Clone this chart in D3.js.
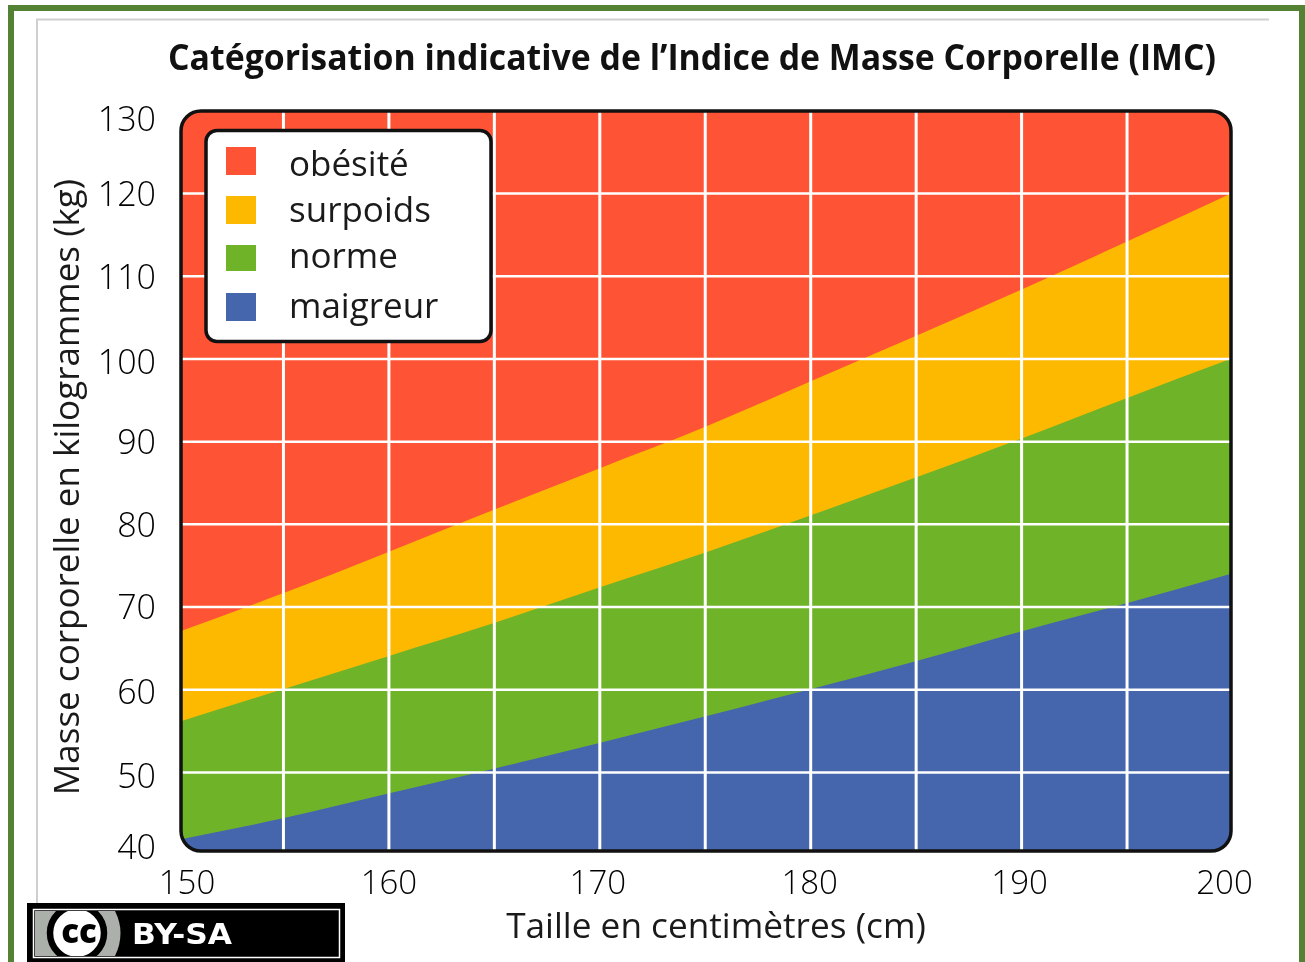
<!DOCTYPE html>
<html lang="fr">
<head>
<meta charset="utf-8">
<title>IMC</title>
<script src="https://cdn.jsdelivr.net/npm/d3@7"></script>
<style>
    html, body { margin: 0; padding: 0; background: #fff; overflow: hidden; }
    svg { display: block; filter: blur(0.55px); }
    text { font-family: "Open Sans", sans-serif; fill: #1a1a1a; }
    .grid line { stroke: #fff; stroke-width: 3; }
    .grid-y line { stroke-width: 2.5; }
    .axis text { font-size: 34px; font-weight: 300; fill: #000; }
    .axis path, .axis line { display: none; }
</style>
</head>
<body>
<svg id="chart" width="1305" height="962"></svg>
<script>
// Values
var tailles = [150, 155, 160, 165, 170, 175, 180, 185, 190, 195, 200];
var limiteMaigreur = [41.8, 44.4, 47.4, 50.4, 53.5, 56.7, 60, 63.4, 67, 70.4, 74];
var limiteNorme = [56, 60, 64, 68, 72.3, 76.5, 81, 85.6, 90.3, 95.2, 100];
var limiteSurpoids = [66.9, 71.6, 76.6, 81.7, 86.7, 91.7, 97.2, 102.7, 108.3, 114.1, 120];
var limiteObesite = [130, 130, 130, 130, 130, 130, 130, 130, 130, 130, 130];

var categories = ["obésité", "surpoids", "norme", "maigreur"];
var couleurs = ["#ff5336", "#fdb900", "#6fb329", "#4565ad"];
var xTicks = [150, 160, 170, 180, 190, 200];
var yTicks = [40, 50, 60, 70, 80, 90, 100, 110, 120, 130];
var xGrid = [155, 160, 165, 170, 175, 180, 185, 190, 195];
var yGrid = [50, 60, 70, 80, 90, 100, 110, 120];

var svg = d3.select("#chart");
var x = d3.scaleLinear().domain([150, 200]).range([177.5, 1232]);
var y = d3.scaleLinear().domain([40, 130]).range([854.7, 110.3]);

// page frame
svg.append("rect").attr("x", 11).attr("y", 8).attr("width", 1291).attr("height", 970)
    .attr("fill", "none").attr("stroke", "#548235").attr("stroke-width", 6);
svg.append("path").attr("d", "M37,905V19.5H1269")
    .attr("fill", "none").attr("stroke", "#cfcfcf").attr("stroke-width", 2);

svg.append("text").attr("x", 168).attr("y", 70)
    .attr("textLength", 1048).attr("lengthAdjust", "spacingAndGlyphs")
    .style("font-size", "35px").style("font-weight", 700).style("fill", "#111")
    .text("Catégorisation indicative de l’Indice de Masse Corporelle (IMC)");

// bands, clipped to the rounded plot area
svg.append("clipPath").attr("id", "plot-clip").append("rect")
    .attr("x", 181).attr("y", 111).attr("width", 1050).attr("height", 740).attr("rx", 20);
var plot = svg.append("g").attr("clip-path", "url(#plot-clip)");

var limites = [limiteObesite, limiteSurpoids, limiteNorme, limiteMaigreur];
var area = d3.area()
    .x(function(d) { return x(d.taille); })
    .y0(y(40))
    .y1(function(d) { return y(d.poids); })
    .curve(d3.curveMonotoneX);

plot.selectAll("path.band")
    .data(limites)
    .enter()
    .append("path")
    .attr("class", "band")
    .attr("fill", function(d, i) { return couleurs[i]; })
    .attr("d", function(d) {
        return area(d.map(function(p, i) { return {taille: tailles[i], poids: p}; }));
    });

// white grid
plot.append("g").attr("class", "grid")
    .attr("transform", "translate(0,854.7)")
    .call(d3.axisBottom(x).tickValues(xGrid).tickSize(-760).tickFormat(""))
    .select(".domain").remove();
plot.append("g").attr("class", "grid grid-y")
    .attr("transform", "translate(178,0)")
    .call(d3.axisLeft(y).tickValues(yGrid).tickSize(-1060).tickFormat(""))
    .select(".domain").remove();

svg.append("rect")
    .attr("x", 181).attr("y", 111).attr("width", 1050).attr("height", 740).attr("rx", 20)
    .attr("fill", "none").attr("stroke", "#111").attr("stroke-width", 3.5);

// tick labels, the source nudges some of them off their gridline
var xNudge = {150: 9, 160: 0, 170: -2, 180: -1, 190: -2, 200: -8};
var yNudge = {130: 8, 120: 0, 110: 1, 100: 3, 90: 0, 80: 1, 70: 0, 60: 2, 50: 4, 40: -8};

var xAxis = svg.append("g").attr("class", "axis")
    .attr("transform", "translate(0,854.7)")
    .call(d3.axisBottom(x).tickValues(xTicks).tickSize(0).tickPadding(16));
xAxis.selectAll("text")
    .style("font-size", "33px")
    .attr("dy", "0.71em")
    .attr("dx", function(d) { return xNudge[d]; });

var yAxis = svg.append("g").attr("class", "axis")
    .attr("transform", "translate(156,0)")
    .call(d3.axisLeft(y).tickValues(yTicks).tickSize(0).tickPadding(0));
yAxis.selectAll("text")
    .attr("dy", function(d) { return 12 + yNudge[d]; });

svg.append("text").attr("x", 716).attr("y", 938).attr("text-anchor", "middle")
    .style("font-size", "35.2px").text("Taille en centimètres (cm)");
svg.append("text").attr("transform", "translate(79,487) rotate(-90)").attr("text-anchor", "middle")
    .style("font-size", "35px").text("Masse corporelle en kilogrammes (kg)");

// legend
var legendBaselines = [175.5, 221.5, 267.5, 317.5];
var legendSwatchY = [147, 196, 245, 293];
var legendSwatchH = [28, 28, 26, 28];
svg.append("rect").attr("x", 206).attr("y", 130.5).attr("width", 285).attr("height", 211).attr("rx", 11)
    .attr("fill", "#fff").attr("stroke", "#111").attr("stroke-width", 3.5);
var legend = svg.selectAll("g.legend-item").data(categories).enter().append("g").attr("class", "legend-item");
legend.append("rect").attr("x", 226).attr("width", 30)
    .attr("y", function(d, i) { return legendSwatchY[i]; })
    .attr("height", function(d, i) { return legendSwatchH[i]; })
    .attr("fill", function(d, i) { return couleurs[i]; });
legend.append("text").attr("x", 289)
    .attr("y", function(d, i) { return legendBaselines[i]; })
    .style("font-size", "35px")
    .text(function(d) { return d; });

// licence badge
var badge = svg.append("g");
badge.append("rect").attr("x", 27).attr("y", 903).attr("width", 318).attr("height", 59).attr("fill", "#000");
badge.append("rect").attr("x", 33.5).attr("y", 909.5).attr("width", 306).attr("height", 48)
    .attr("fill", "#000").attr("stroke", "#fff").attr("stroke-width", 1.5);
svg.append("clipPath").attr("id", "badge-clip").append("rect")
    .attr("x", 35).attr("y", 911).attr("width", 303).attr("height", 45);
var badgeInner = badge.append("g").attr("clip-path", "url(#badge-clip)");
badgeInner.append("path").attr("d", "M35,911H115Q126,933 115,956H35Z").attr("fill", "#abb1aa");
badgeInner.append("circle").attr("cx", 77).attr("cy", 933).attr("r", 27).attr("fill", "#fff").attr("stroke", "#000").attr("stroke-width", 6.5);
badgeInner.append("text").attr("x", 79).attr("y", 943).attr("text-anchor", "middle")
    .style("font-size", "33px").style("font-weight", 800).style("fill", "#000").text("cc");
badge.append("text").attr("x", 132).attr("y", 944)
    .attr("textLength", 100).attr("lengthAdjust", "spacingAndGlyphs")
    .style("font-family", "'DejaVu Sans', sans-serif")
    .style("font-size", "29px").style("font-weight", 700).style("fill", "#fff").text("BY-SA");
</script>
</body>
</html>
